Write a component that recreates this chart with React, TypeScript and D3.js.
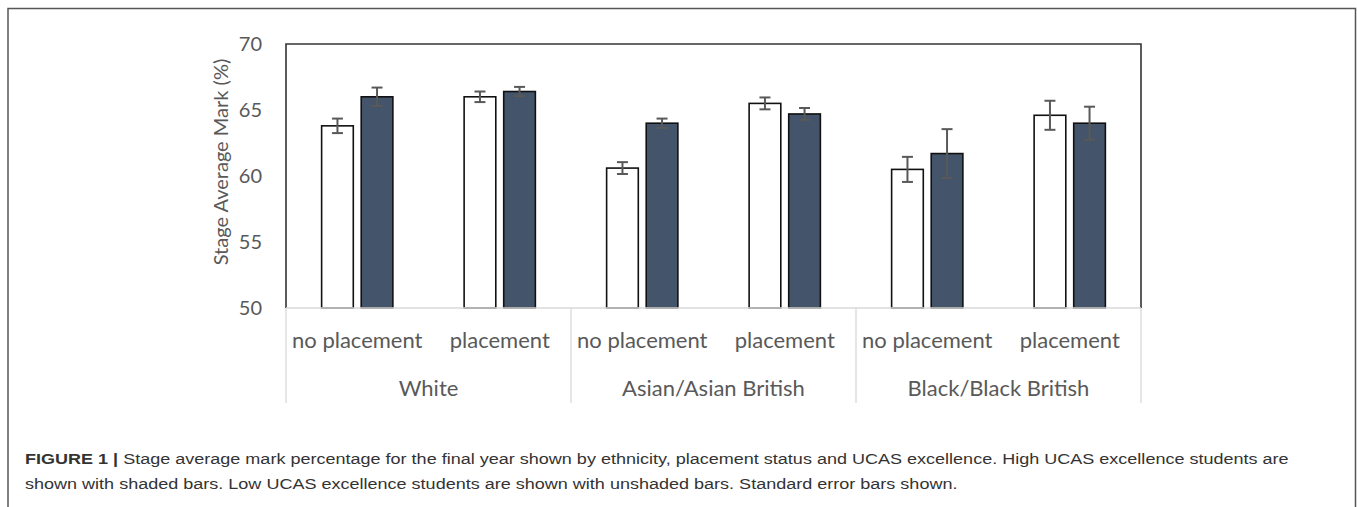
import React from 'react';
import * as d3 from 'd3';

const groups = ['White', 'Asian/Asian British', 'Black/Black British'];
const placements = ['no placement', 'placement'];
const series = ['low', 'high'];

// stage average mark (%), in order White/no, White/yes, Asian/no, Asian/yes, Black/no, Black/yes
const lowMeans = [63.8, 66.0, 60.6, 65.5, 60.5, 64.6];
const lowSE = [0.55, 0.4, 0.45, 0.45, 0.95, 1.1];
const highMeans = [66.0, 66.4, 64.0, 64.7, 61.7, 64.0];
const highSE = [0.7, 0.35, 0.35, 0.45, 1.85, 1.25];

const yTicks = [50, 55, 60, 65, 70];

const captionLine1 =
  'Stage average mark percentage for the final year shown by ethnicity, placement status and UCAS excellence. High UCAS excellence students are';
const captionLine2 =
  'shown with shaded bars. Low UCAS excellence students are shown with unshaded bars. Standard error bars shown.';

const W = 1357;
const H = 507;
const plot = { left: 286, right: 1141, top: 44, bottom: 308 };

const AXIS_FONT = 'Lato, "Open Sans", sans-serif';
const CAPTION_FONT = '"Liberation Sans", Arial, sans-serif';
const DARK = '#44546a';
const ERR = '#595959';
const TEXT = '#595959';

// the caption in the figure is wider than plain Arial at this size
const captionStretch = 1.164;

const App: React.FC = () => {
  const y = d3.scaleLinear().domain([50, 70]).range([plot.bottom, plot.top]);

  const keys = groups.flatMap(g => placements.map(p => `${g}|${p}`));
  const x0 = d3.scaleBand<string>().domain(keys).range([plot.left, plot.right]).padding(0);
  const xg = d3.scaleBand<string>().domain(groups).range([plot.left, plot.right]).padding(0);
  const x1 = d3
    .scaleBand<string>()
    .domain(series)
    .range([x0.bandwidth() * 0.25, x0.bandwidth() * 0.75])
    .paddingInner(0.2);

  const rows = keys.map((k, i) => ({
    key: k,
    placement: k.split('|')[1],
    bars: [
      { s: 'low', v: lowMeans[i], e: lowSE[i] },
      { s: 'high', v: highMeans[i], e: highSE[i] },
    ],
  }));

  const capW = 11;

  return (
    <svg
      width={W}
      height={H}
      style={{ position: 'absolute', left: 0, top: 0, background: '#fff' }}
    >
      {/* outer figure frame */}
      <path d={`M8,${H} V8.5 H1355.5 V${H}`} fill="none" stroke="#555" strokeWidth={1.5} />

      {/* y ticks */}
      {yTicks.map(t => (
        <text
          key={t}
          x={262}
          y={y(t)}
          dy="0.35em"
          textAnchor="end"
          fontFamily={AXIS_FONT}
          fontSize={20}
          fill={TEXT}
        >
          {t}
        </text>
      ))}
      <text
        transform={`translate(221,${(plot.top + plot.bottom) / 2 - 14}) rotate(-90)`}
        dy="0.35em"
        textAnchor="middle"
        fontFamily={AXIS_FONT}
        fontSize={20}
        fill={TEXT}
      >
        Stage Average Mark (%)
      </text>

      {/* bars */}
      {rows.map(r => (
        <g key={r.key} transform={`translate(${x0(r.key)},0)`}>
          {r.bars.map(b => {
            const bx = x1(b.s)!;
            const cx = bx + x1.bandwidth() / 2;
            return (
              <g key={b.s}>
                <rect
                  x={bx}
                  y={y(b.v)}
                  width={x1.bandwidth()}
                  height={y(50) - y(b.v)}
                  fill={b.s === 'high' ? DARK : '#fff'}
                  stroke="#111"
                  strokeWidth={1.6}
                />
                <g stroke={ERR} strokeWidth={2}>
                  <line x1={cx} x2={cx} y1={y(b.v + b.e)} y2={y(b.v - b.e)} />
                  <line x1={cx - capW / 2} x2={cx + capW / 2} y1={y(b.v + b.e)} y2={y(b.v + b.e)} />
                  <line x1={cx - capW / 2} x2={cx + capW / 2} y1={y(b.v - b.e)} y2={y(b.v - b.e)} />
                </g>
              </g>
            );
          })}
          <text
            x={x0.bandwidth() / 2}
            y={340}
            dy="0.35em"
            textAnchor="middle"
            fontFamily={AXIS_FONT}
            fontSize={22}
            fill={TEXT}
          >
            {r.placement}
          </text>
        </g>
      ))}

      {/* plot frame: top, left, right */}
      <path
        d={`M${plot.left},${plot.bottom} V${plot.top} H${plot.right} V${plot.bottom}`}
        fill="none"
        stroke="#333"
        strokeWidth={1.6}
      />
      {/* category axis */}
      <line x1={plot.left} x2={plot.right} y1={plot.bottom} y2={plot.bottom} stroke="#d9d9d9" strokeWidth={1.3} />
      {[...groups.map(g => xg(g)!), plot.right].map((gx, i) => (
        <line key={i} x1={gx} x2={gx} y1={plot.bottom} y2={403} stroke="#d9d9d9" strokeWidth={1.3} />
      ))}
      {groups.map(g => (
        <text
          key={g}
          x={xg(g)! + xg.bandwidth() / 2}
          y={388}
          dy="0.35em"
          textAnchor="middle"
          fontFamily={AXIS_FONT}
          fontSize={22}
          fill={TEXT}
        >
          {g}
        </text>
      ))}

      {/* caption */}
      <g transform={`translate(25,0) scale(${captionStretch},1)`} fontFamily={CAPTION_FONT} fontSize={15.5} fill="#333">
        <text x={0} y={464}>
          <tspan fontWeight="bold">FIGURE 1 | </tspan>
          <tspan>{captionLine1}</tspan>
        </text>
        <text x={0} y={489}>
          {captionLine2}
        </text>
      </g>
    </svg>
  );
};

export default App;
